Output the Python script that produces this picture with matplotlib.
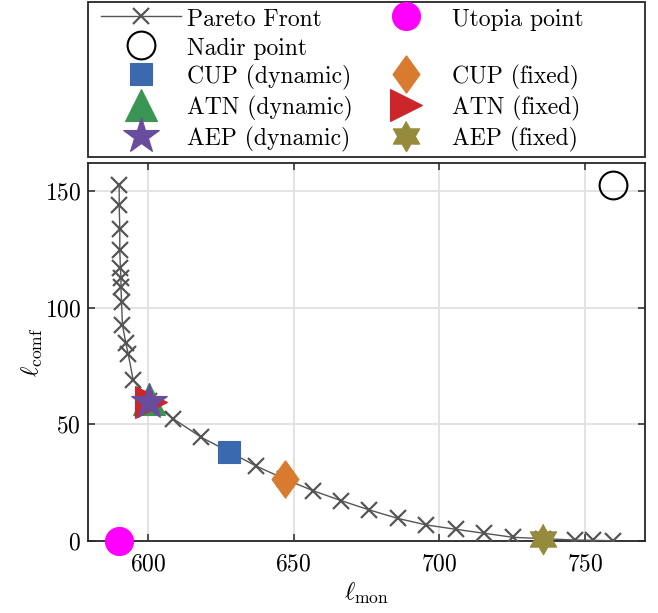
import numpy as np
import matplotlib
matplotlib.use('Agg')
import matplotlib.pyplot as plt
from matplotlib.lines import Line2D
from matplotlib.patches import Rectangle

plt.rcParams['font.family'] = ['cmr10', 'DejaVu Serif']
plt.rcParams['mathtext.fontset'] = 'cm'
plt.rcParams['axes.formatter.use_mathtext'] = True

# Pareto front
pareto_mon = [590.2, 590.2, 590.4, 590.4, 590.6, 590.8, 590.8, 591.0, 591.3, 592.5,
              593.3, 595.0, 600.5, 608.6, 618.4, 627.8, 637.2, 646.9, 656.6, 666.3,
              676.0, 685.7, 695.4, 705.7, 715.4, 725.1, 735.6, 746.6, 752.5, 759.4]
pareto_comf = [152.5, 143.9, 133.6, 124.6, 116.9, 112.6, 109.0, 102.5, 92.6, 84.7,
               80.1, 69.0, 60.2, 52.5, 44.4, 38.3, 32.1, 26.6, 21.6, 17.3,
               13.3, 9.7, 6.9, 5.0, 3.3, 1.6, 1.0, 0.4, 0.3, 0.1]

utopia = (590.2, 0.0)
nadir = (759.4, 152.5)

# controller results
method_labels = ['CUP (dynamic)', 'CUP (fixed)', 'ATN (dynamic)', 'ATN (fixed)',
                 'AEP (dynamic)', 'AEP (fixed)']
method_mon = [627.8, 646.9, 600.5, 601.2, 600.4, 735.6]
method_comf = [38.3, 26.6, 60.8, 59.7, 59.5, 1.0]

x_ticks = [600, 650, 700, 750]
y_ticks = [0, 50, 100, 150]

# marker styles
diamond = [(0, 1), (0.72, 0), (0, -1), (-0.72, 0), (0, 1)]
ang = np.linspace(np.pi / 2, np.pi / 2 + 2 * np.pi, 13)[:-1]
rad = np.where(np.arange(12) % 2 == 0, 1.0, 1 / np.sqrt(3))
hexagram = list(zip(rad * np.cos(ang), rad * np.sin(ang)))
styles = [
    dict(marker='s', color='#3a69ae', ms=15.5),
    dict(marker=diamond, color='#d97b2f', ms=27),
    dict(marker='^', color='#3b9552', ms=23),
    dict(marker='>', color='#cc252a', ms=23),
    dict(marker='*', color='#6a4c9c', ms=27),
    dict(marker=hexagram, color='#958b3b', ms=22),
]

W, H = 658, 613
fig = plt.figure(figsize=(W / 100, H / 100), dpi=100)
ax = fig.add_axes([88 / W, 72 / H, 557 / W, 378 / H])

h_pf, = ax.plot(pareto_mon, pareto_comf, color='#555555', lw=1.0, marker='x',
                ms=11, mew=1.6, label='Pareto Front', zorder=3)
h_ut, = ax.plot(*utopia, 'o', color='#ff00ff', ms=20, clip_on=False, zorder=5,
                label='Utopia point', linestyle='none')
h_na, = ax.plot(*nadir, 'o', mfc='none', mec='black', mew=1.5, ms=20, clip_on=False,
                zorder=5, label='Nadir point', linestyle='none')

handles = []
for lab, xm, ym, st in zip(method_labels, method_mon, method_comf, styles):
    h, = ax.plot(xm, ym, linestyle='none', marker=st['marker'], ms=st['ms'],
                 mfc=st['color'], mec=st['color'], mew=0.8, clip_on=False,
                 zorder=6, label=lab)
    handles.append(h)

ax.set_xlim(579.5, 770.5)
ax.set_ylim(0, 162)
ax.set_xticks(x_ticks)
ax.set_yticks(y_ticks)
ax.grid(True, color='#e0e0e0', lw=1.3)
ax.set_axisbelow(True)
ax.tick_params(direction='in', top=True, right=True, length=5, width=1.1,
               labelsize=17, color='#262626', pad=5)
ax.tick_params(axis='x', pad=9)
for sp in ax.spines.values():
    sp.set_linewidth(1.3)
    sp.set_color('#262626')
ax.set_xlabel(r'$\ell_{\rm mon}$', fontsize=18, labelpad=4)
ax.set_ylabel(r'$\ell_{\rm comf}$', fontsize=18, labelpad=0)

# legend: two columns placed separately, one frame around both
blank = Line2D([], [], linestyle='none')
col1 = ([h_pf, h_na, handles[0], handles[2], handles[4]],
        ['Pareto Front', 'Nadir point', 'CUP (dynamic)', 'ATN (dynamic)', 'AEP (dynamic)'])
col2 = ([h_ut, blank, handles[1], handles[3], handles[5]],
        ['Utopia point', '', 'CUP (fixed)', 'ATN (fixed)', 'AEP (fixed)'])
leg_kw = dict(loc='upper left', fontsize=17, numpoints=1, handlelength=3.4,
              handletextpad=0.25, handleheight=1.0, labelspacing=0.23,
              borderpad=0, borderaxespad=0, frameon=False)
fig.legend(*col1, bbox_to_anchor=(101 / W, 1 - 7 / H), **leg_kw)
fig.legend(*col2, bbox_to_anchor=(366 / W, 1 - 7 / H), **leg_kw)
fig.patches.append(Rectangle((88 / W, 1 - 157 / H), 557 / W, 155 / H,
                             transform=fig.transFigure, fill=False,
                             edgecolor='#262626', lw=1.3))

fig.savefig('out.png', dpi=100)
